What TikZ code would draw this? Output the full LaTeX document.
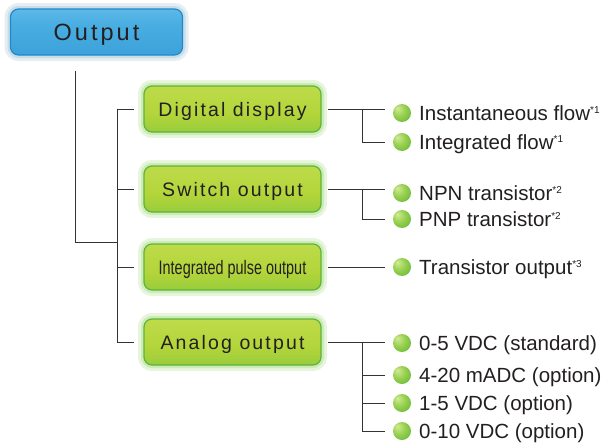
\documentclass[tikz,border=0pt]{standalone}
\usepackage{fontspec}
\setmainfont{Liberation Sans}
\usepackage{graphicx}
\usetikzlibrary{calc}
\definecolor{txt}{HTML}{231F20}
\definecolor{lncol}{HTML}{333333}
\definecolor{gbd}{HTML}{5DB43A}
\definecolor{gglow}{HTML}{CDEBB8}
\definecolor{gglowb}{HTML}{E6F5DC}
\definecolor{ga}{HTML}{6DBB3E}
\definecolor{gb}{HTML}{8CC83E}
\definecolor{gc}{HTML}{B3D53A}
\definecolor{gd}{HTML}{BEDB4A}
\definecolor{ge}{HTML}{CDE57A}
\definecolor{gf}{HTML}{A8D860}
\definecolor{bbd}{HTML}{2288C8}
\definecolor{bglow}{HTML}{C8DDE8}
\definecolor{bglowb}{HTML}{E4EEF3}
\definecolor{ba}{HTML}{2A88C8}
\definecolor{bb}{HTML}{3AA0D8}
\definecolor{bc}{HTML}{4AAEE2}
\definecolor{bd}{HTML}{6CC0EC}
\definecolor{be}{HTML}{98D4F2}
\definecolor{da}{HTML}{D2EC96}
\definecolor{db}{HTML}{98D050}
\definecolor{dc}{HTML}{62B536}
\definecolor{dd}{HTML}{55A830}
\pgfdeclareverticalshading{gboxsh}{100bp}{color(0bp)=(ga); color(15bp)=(gb); color(45bp)=(gc); color(75bp)=(gd); color(88bp)=(ge); color(100bp)=(gf)}
\pgfdeclareverticalshading{bboxsh}{100bp}{color(0bp)=(ba); color(20bp)=(bb); color(60bp)=(bc); color(85bp)=(bd); color(100bp)=(be)}
\pgfdeclareradialshading{gball}{\pgfpoint{-14bp}{14bp}}{color(0bp)=(da); color(18bp)=(db); color(38bp)=(dc); color(50bp)=(dd)}
\newcommand\supn[1]{\raisebox{7pt}{\fontsize{10}{10}\selectfont *#1}}
\begin{document}
\begin{tikzpicture}[x=1pt,y=-1pt,
  ln/.style={draw=lncol, line width=0.9pt},
  gbox/.style={rounded corners=8pt, minimum width=177pt, minimum height=46pt,
    shade, shading=gboxsh, draw=gbd, line width=1.2pt,
    preaction={draw=gglowb, line width=12pt},
    preaction={draw=gglow, line width=6pt},
    font=\fontsize{19.5}{22}\selectfont\addfontfeature{LetterSpace=11},
    text=txt, inner sep=0pt, text height=14pt, text depth=0pt},
  bbox/.style={rounded corners=8pt, minimum width=172pt, minimum height=46pt,
    shade, shading=bboxsh, draw=bbd, line width=1.2pt,
    preaction={draw=bglowb, line width=12pt},
    preaction={draw=bglow, line width=6pt},
    font=\fontsize{23.5}{26}\selectfont\addfontfeature{LetterSpace=13},
    text=txt, inner sep=0pt, text height=17pt, text depth=0pt},
  gdot/.style={circle, minimum size=18pt, inner sep=0pt, shade, shading=gball, draw=none},
  item/.style={anchor=base west, inner sep=0pt, text=txt, font=\fontsize{20.5}{24}\selectfont}
]
\useasboundingbox (0,0) rectangle (608,447);

\coordinate (jA) at (75,242);
\coordinate (jB) at (117,242);
\coordinate (bT) at (117,109);
\coordinate (bB) at (117,342);
\coordinate (vx) at (362,0);

\node[bbox] (out) at (96.5,32) {Output};

\node[gbox] (dig) at (232.5,109) {Digital display};
\node[gbox] (sw) at (232.5,189) {Switch output};
\node[gbox, font=\fontsize{19.5}{22}\selectfont] (pul) at (232.5,267) {\scalebox{0.74}[1]{Integrated pulse output}};
\node[gbox] (ana) at (232.5,342) {Analog output};

% left tree
\draw[ln] ($(out.south -| jA)+(0,15)$) -- (jA) -- (jB);
\draw[ln] (bT) -- (bB);
\foreach \b in {dig,sw,pul,ana}
  \draw[ln] (\b.west -| bT) -- ([xshift=-9pt]\b.west);

% items
\node[gdot] (d1) at (402,113) {};
\node[item] (i1) at (419,120) {Instantaneous flow\supn{1}};
\node[gdot] (d2) at (402,142) {};
\node[item] (i2) at (419,149) {Integrated flow\supn{1}};

\node[gdot] (d3) at (402,193) {};
\node[item] (i3) at (419,200) {NPN transistor\supn{2}};
\node[gdot] (d4) at (402,219) {};
\node[item] (i4) at (419,226) {PNP transistor\supn{2}};

\node[gdot] (d5) at (402,267) {};
\node[item] (i5) at (419,274) {Transistor output\supn{3}};

\node[gdot] (d6) at (402,343) {};
\node[item] (i6) at (419,350) {0-5 VDC (standard)};
\node[gdot] (d7) at (402,375) {};
\node[item] (i7) at (419,382) {4-20 mADC (option)};
\node[gdot] (d8) at (402,403) {};
\node[item] (i8) at (419,410) {1-5 VDC (option)};
\node[gdot] (d9) at (402,431) {};
\node[item] (i9) at (419,438) {0-10 VDC (option)};

% right connectors
\draw[ln] ([xshift=6pt]dig.east) -- ([xshift=-8pt]d1.west |- dig.east);
\draw[ln] (dig.east -| vx) |- ([xshift=-8pt]d2.west);

\draw[ln] ([xshift=6pt]sw.east) -- ([xshift=-8pt]d3.west |- sw.east);
\draw[ln] (sw.east -| vx) |- ([xshift=-8pt]d4.west);

\draw[ln] ([xshift=6pt]pul.east) -- ([xshift=-8pt]d5.west |- pul.east);

\draw[ln] ([xshift=6pt]ana.east) -- ([xshift=-8pt]d6.west |- ana.east);
\draw[ln] (ana.east -| vx) |- ([xshift=-8pt]d9.west);
\draw[ln] (d7.west -| vx) -- ([xshift=-8pt]d7.west);
\draw[ln] (d8.west -| vx) -- ([xshift=-8pt]d8.west);
\end{tikzpicture}
\end{document}
